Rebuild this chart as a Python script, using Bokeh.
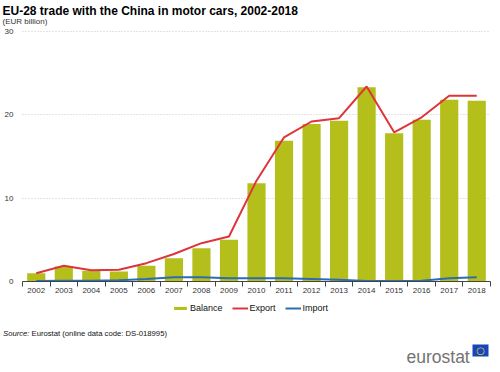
from bokeh.plotting import figure
from bokeh.models import (FixedTicker, Label, BoxAnnotation, Legend, LegendItem,
                          Range1d, ColumnDataSource, LinearAxis)
from bokeh.embed import file_html
from bokeh.resources import INLINE

years = [2002, 2003, 2004, 2005, 2006, 2007, 2008, 2009, 2010,
         2011, 2012, 2013, 2014, 2015, 2016, 2017, 2018]
balance = [1.0, 1.8, 1.3, 1.2, 1.9, 2.8, 4.0, 5.0, 11.8,
           16.9, 18.9, 19.3, 23.3, 17.8, 19.4, 21.8, 21.7]
export = [1.0, 1.9, 1.35, 1.4, 2.2, 3.3, 4.6, 5.4, 12.1,
          17.3, 19.2, 19.6, 23.4, 17.9, 19.7, 22.3, 22.3]
imports = [0.05, 0.1, 0.1, 0.15, 0.3, 0.5, 0.5, 0.4, 0.4,
           0.4, 0.3, 0.2, 0.05, 0.05, 0.1, 0.4, 0.5]
y_ticks = [0, 10, 20, 30]

W, H = 500, 372
# plot area inside the canvas (pixels)
FL, FR, FT, FB = 22, 490, 31, 281
n = len(years)
x0, x1 = -0.5, n - 0.5
y0, y1 = 0, 30
pxx = (FR - FL) / (x1 - x0)
pxy = (FB - FT) / (y1 - y0)

idx = list(range(n))
src = ColumnDataSource(dict(x=idx, balance=balance, export=export, imports=imports))

p = figure(width=W, height=H, output_backend="svg", toolbar_location=None,
           x_range=Range1d(x0 - FL / pxx, x1 + (W - FR) / pxx),
           y_range=Range1d(y0 - (H - FB) / pxy, y1 + FT / pxy),
           x_axis_location=None, y_axis_location=None,
           min_border=0)
p.outline_line_color = None
p.title.visible = False
p.xgrid.grid_line_color = None

bars = p.vbar(x="x", top="balance", width=0.66, source=src,
              fill_color="#B5BF1B", line_color=None)
lexp = p.line(x="x", y="export", source=src, line_color="#DE343B", line_width=2)
limp = p.line(x="x", y="imports", source=src, line_color="#2D6CB3", line_width=2)

# grid lines
p.ygrid.ticker = FixedTicker(ticks=y_ticks[1:])
p.ygrid.grid_line_color = "#c8c8c8"
p.ygrid.grid_line_dash = "1 2"
try:
    p.ygrid.cross_bounds = (x0, x1)
except Exception:
    pass

# y axis
yax = LinearAxis(fixed_location=x0, bounds=(y0, y1),
                 ticker=FixedTicker(ticks=y_ticks),
                 axis_line_color=None, major_tick_line_color=None,
                 minor_tick_line_color=None,
                 major_tick_out=0, major_tick_in=0,
                 minor_tick_out=0, minor_tick_in=0,
                 major_label_text_font="Liberation Sans",
                 major_label_text_font_size="8px",
                 major_label_text_color="#333333",
                 major_label_standoff=9)
p.add_layout(yax, "left")

# x axis: labels at centres, tick marks between categories
xax = LinearAxis(fixed_location=0, bounds=(x0, x1),
                 ticker=FixedTicker(ticks=idx, minor_ticks=[i - 0.5 for i in range(n + 1)]),
                 major_label_overrides={i: str(y) for i, y in zip(idx, years)},
                 major_tick_out=0, major_tick_in=0,
                 minor_tick_out=5, minor_tick_in=0,
                 minor_tick_line_color="#444444", axis_line_color="#444444",
                 major_label_text_font="Liberation Sans",
                 major_label_text_font_size="8px",
                 major_label_text_color="#333333",
                 major_label_standoff=1)
p.add_layout(xax, "below")

legend = Legend(items=[LegendItem(label="Balance", renderers=[bars]),
                       LegendItem(label="Export", renderers=[lexp]),
                       LegendItem(label="Import", renderers=[limp])],
                orientation="horizontal", location=(172, 58),
                glyph_width=16, glyph_height=4, label_height=12,
                label_standoff=2, spacing=9, padding=0, margin=0,
                border_line_color=None, background_fill_alpha=0,
                label_text_font="Liberation Sans", label_text_font_size="9px",
                label_text_color="#111111")
p.add_layout(legend, "center")


def lab(x, y, text, **kw):
    kw.setdefault("text_font", "Liberation Sans")
    p.add_layout(Label(x=x, y=H - y, x_units="screen", y_units="screen", text=text, **kw))


lab(2, 10.5, "EU-28 trade with the China in motor cars, 2002-2018",
    text_font_style="bold", text_font_size="12px", text_baseline="alphabetic",
    text_color="#000000")
lab(2, 21, "(EUR billion)", text_font_size="8px", text_baseline="alphabetic",
    text_color="#333333")
lab(2.5, 332.5, "Source:", text_font_style="italic", text_font_size="7.7px",
    text_baseline="alphabetic", text_color="#111111")
lab(31, 332.5, "Eurostat (online data code: DS-018995)", text_font_size="7.7px",
    text_baseline="alphabetic", text_color="#111111")
lab(406, 356, "eurostat", text_font_size="17.5px", text_baseline="alphabetic",
    text_color="#737373")
p.add_layout(BoxAnnotation(left=472, right=488, top=H - 344, bottom=H - 356,
                           left_units="screen", right_units="screen",
                           top_units="screen", bottom_units="screen",
                           fill_color="#1546BE", fill_alpha=1, line_color=None))
lab(480, 350, "○", text_font="DejaVu Sans", text_align="center",
    text_font_size="10px", text_baseline="middle", text_color="#F5D300")

open("out.html", "w").write(file_html(p, INLINE))
